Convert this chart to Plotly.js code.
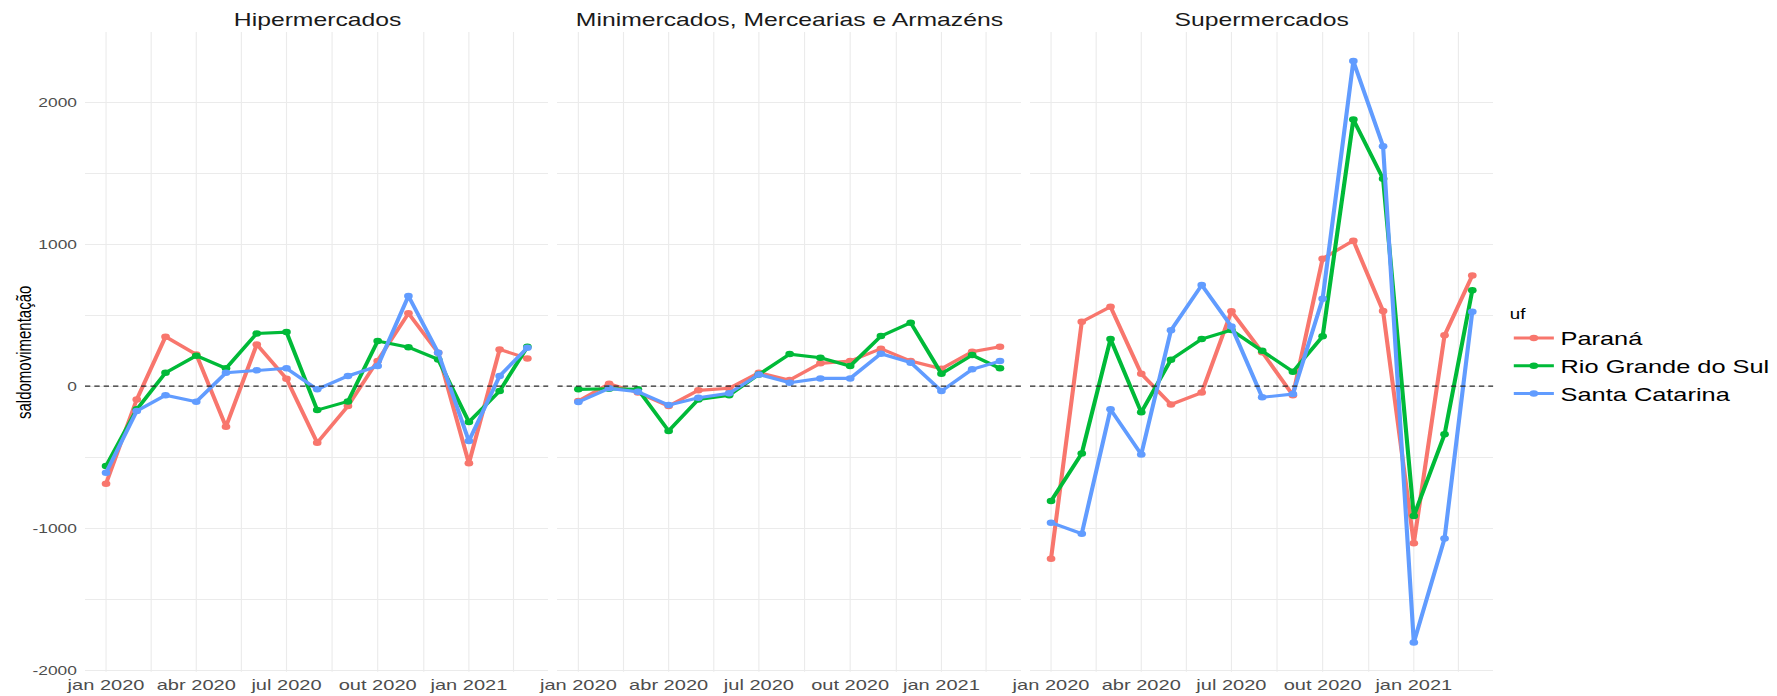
<!DOCTYPE html>
<html>
<head>
<meta charset="utf-8">
<script src="https://cdn.plot.ly/plotly-3.0.1.min.js"></script>
<style>
  html, body { margin: 0; padding: 0; background: #ffffff; overflow: hidden; }
  #wrap { width: 1777px; height: 696px; overflow: hidden; }
  #chart { width: 1400px; height: 696px; transform: scaleX(1.33609); transform-origin: 0 0; }
</style>
</head>
<body>
<div id="wrap"><div id="chart"></div></div>
<script>
// ---- data ----
const months = ['2020-01-01','2020-02-01','2020-03-01','2020-04-01','2020-05-01','2020-06-01',
                '2020-07-01','2020-08-01','2020-09-01','2020-10-01','2020-11-01','2020-12-01',
                '2021-01-01','2021-02-01','2021-03-01'];

const panels = ['Hipermercados', 'Minimercados, Mercearias e Armazéns', 'Supermercados'];
const states = ['Paraná', 'Rio Grande do Sul', 'Santa Catarina'];

// Hipermercados
const hiperPR = [-686, -93, 349, 224, -285, 294, 53, -398, -140, 177, 513, 235, -543, 259, 196];
const hiperRS = [-562, -163, 95, 215, 126, 372, 381, -168, -107, 318, 275, 189, -252, -34, 278];
const hiperSC = [-609, -175, -64, -109, 95, 112, 126, -22, 72, 142, 635, 236, -386, 72, 271];

// Minimercados, Mercearias e Armazéns
const miniPR = [-104, 18, -45, -140, -29, -15, 95, 43, 161, 177, 264, 177, 123, 243, 278];
const miniRS = [-22, -18, -22, -315, -93, -64, 83, 226, 200, 142, 353, 447, 88, 219, 126];
const miniSC = [-111, -15, -39, -133, -81, -50, 83, 25, 55, 55, 229, 166, -34, 119, 177];

// Supermercados
const superPR = [-1214, 454, 560, 88, -128, -45, 527, 240, -64, 898, 1025, 529, -1106, 358, 780];
const superRS = [-808, -473, 332, -184, 187, 332, 395, 250, 102, 351, 1878, 1461, -914, -339, 675];
const superSC = [-961, -1038, -163, -480, 394, 712, 421, -78, -55, 616, 2289, 1690, -1805, -1073, 525];

// axis ticks (major labelled, minor as blank grid positions)
const xTickVals = ['2020-01-01','2020-02-15 12:00','2020-04-01','2020-05-16 12:00','2020-07-01',
                   '2020-08-16','2020-10-01','2020-11-16 12:00','2021-01-01','2021-02-15'];
const xTickText = ['jan 2020','','abr 2020','','jul 2020','','out 2020','','jan 2021',''];
const yTickVals = [-2000, -1500, -1000, -500, 0, 500, 1000, 1500, 2000];
const yTickText = ['-2000','','-1000','','0','','1000','','2000'];

const colors = ['#F8766D', '#00BA38', '#619CFF'];
const seriesByPanel = [
  [hiperPR, hiperRS, hiperSC],
  [miniPR, miniRS, miniSC],
  [superPR, superRS, superSC]
];

// ---- build ----
const traces = [];
seriesByPanel.forEach((set, p) => {
  set.forEach((vals, s) => {
    traces.push({
      type: 'scatter', mode: 'lines+markers',
      x: months, y: vals,
      name: states[s],
      legendgroup: states[s],
      showlegend: p === 0,
      xaxis: p === 0 ? 'x' : 'x' + (p + 1),
      yaxis: p === 0 ? 'y' : 'y' + (p + 1),
      line: { color: colors[s], width: 3.1 },
      marker: { color: colors[s], size: 6.5 }
    });
  });
});

const W = 1330, H = 696;
const domains = [[63.6 / W, 410.5 / W], [417.1 / W, 764.2 / W], [770.9 / W, 1117.7 / W]];
const yDomain = [1 - 671.7 / H, 1 - 32 / H];
const xRange = ['2019-12-10 18:00', '2021-03-22 06:00'];
const yRange = [-2010, 2494];
const font = 'Liberation Sans, Arial, sans-serif';

const layout = {
  width: W + 70, height: H,
  margin: { l: 0, r: 70, t: 0, b: 0, autoexpand: false },
  paper_bgcolor: '#ffffff', plot_bgcolor: '#ffffff',
  font: { family: font, color: '#000000' },
  showlegend: true,
  legend: {
    x: 1128 / W, xanchor: 'left', y: 1 - 357 / H, yanchor: 'middle',
    title: { text: 'uf', font: { size: 14, color: '#000000', family: font } },
    font: { size: 19, color: '#000000', family: font },
    bgcolor: 'rgba(0,0,0,0)', borderwidth: 0, tracegroupgap: 0
  },
  shapes: [],
  annotations: []
};

for (let p = 0; p < 3; p++) {
  const xa = p === 0 ? 'xaxis' : 'xaxis' + (p + 1);
  const ya = p === 0 ? 'yaxis' : 'yaxis' + (p + 1);
  const yid = p === 0 ? 'y' : 'y' + (p + 1);
  const xid = p === 0 ? 'x' : 'x' + (p + 1);
  layout[xa] = {
    domain: domains[p], anchor: yid, type: 'date', range: xRange,
    tickmode: 'array', tickvals: xTickVals, ticktext: xTickText,
    showgrid: true, gridcolor: '#EBEBEB', gridwidth: 0.85,
    zeroline: false, showline: false, ticks: '',
    tickfont: { size: 15, color: '#4D4D4D', family: font },
    ticklabelstandoff: 2
  };
  layout[ya] = {
    domain: yDomain, anchor: xid, range: yRange,
    tickmode: 'array', tickvals: yTickVals, ticktext: yTickText,
    showgrid: true, gridcolor: '#EBEBEB', gridwidth: 1.1,
    zeroline: false, showline: false, ticks: '',
    showticklabels: p === 0,
    tickfont: { size: 13, color: '#4D4D4D', family: font },
    ticklabelstandoff: 5
  };
  if (p > 0) layout[ya].matches = 'y';
  layout.shapes.push({
    type: 'line', xref: xid, yref: yid,
    x0: xRange[0], x1: xRange[1], y0: 0, y1: 0,
    line: { color: '#2b2b2b', width: 1.2, dash: '4px,3px' },
    layer: 'above'
  });
  layout.annotations.push({
    text: panels[p], xref: 'paper', yref: 'paper',
    x: (domains[p][0] + domains[p][1]) / 2, y: 1 - 19.5 / H,
    xanchor: 'center', yanchor: 'middle', showarrow: false,
    font: { size: 18.5, color: '#1A1A1A', family: font }
  });
}

layout.annotations.push({
  text: 'saldomovimentação', xref: 'paper', yref: 'paper',
  x: 17.5 / W, y: 1 - 352.5 / H, xanchor: 'center', yanchor: 'middle',
  textangle: -90, showarrow: false,
  font: { size: 15, color: '#000000', family: font }
});

Plotly.newPlot('chart', traces, layout, { staticPlot: true, displayModeBar: false });
</script>
</body>
</html>
